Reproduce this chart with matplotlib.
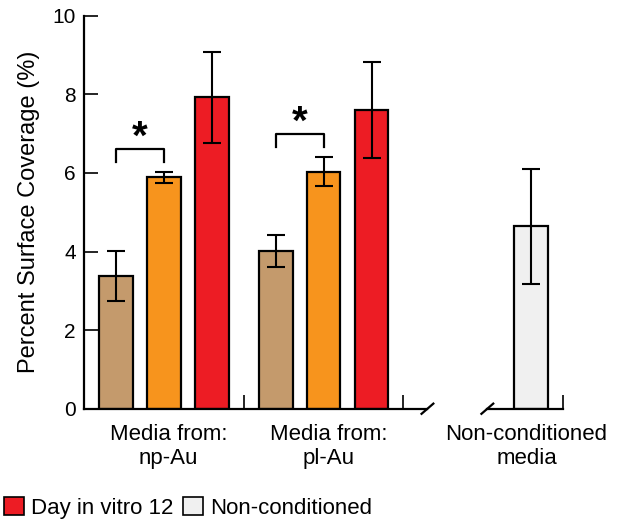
import matplotlib.pyplot as plt
from matplotlib.patches import Patch

plt.rcParams['font.family'] = ['Liberation Sans', 'DejaVu Sans']

# data
groups = ['Media from:\nnp-Au', 'Media from:\npl-Au']
days = ['Day in vitro 4', 'Day in vitro 8', 'Day in vitro 12']
colors = ['#C49A6C', '#F7941D', '#ED1C24']
np_au = [3.38, 5.89, 7.92]
np_au_err = [0.63, 0.14, 1.16]
pl_au = [4.02, 6.03, 7.60]
pl_au_err = [0.41, 0.37, 1.22]
noncond = 4.64
noncond_err = 1.47
noncond_label = 'Non-conditioned\nmedia'
sig_pairs = [(0, 1), (0, 1)]  # tan vs orange in each group

fig = plt.figure(figsize=(6.23, 5.24), dpi=100)
ax = fig.add_axes([0.135, 0.22, 0.769, 0.75])

offsets = [0.2, 0.5, 0.8]
width = 0.21
ekw = dict(elinewidth=1.5, capthick=1.5, ecolor='black')
for g, (vals, errs) in enumerate([(np_au, np_au_err), (pl_au, pl_au_err)]):
    for i in range(3):
        ax.bar(g + offsets[i], vals[i], width, yerr=errs[i], color=colors[i],
               edgecolor='black', linewidth=1.6, capsize=6.5, error_kw=ekw, zorder=2)
ax.bar(2.8, noncond, width, yerr=noncond_err, color='#F0F0F0',
       edgecolor='black', linewidth=1.6, capsize=6.5, error_kw=ekw, zorder=2)

# significance brackets
for g, (vals, errs) in enumerate([(np_au, np_au_err), (pl_au, pl_au_err)]):
    a, b = sig_pairs[g]
    top = max(vals[a] + errs[a], vals[b] + errs[b]) + 0.58
    x1, x2 = g + offsets[a], g + offsets[b]
    ax.plot([x1, x1, x2, x2], [top - 0.33, top, top, top - 0.33],
            color='black', lw=1.6, clip_on=False)
    ax.text((x1 + x2) / 2, top - 0.2, '*', ha='center', va='bottom',
            fontsize=29, fontweight='bold')

ax.set_xlim(0, 3)
ax.set_ylim(0, 10)
ax.set_yticks([0, 2, 4, 6, 8, 10])
ax.tick_params(axis='y', direction='in', length=10, width=1.2, labelsize=15, pad=6)
ax.set_xticks([1, 2, 3])
ax.set_xticklabels([])
ax.tick_params(axis='x', direction='in', length=10, width=1.2)
ax.set_ylabel('Percent Surface Coverage (%)', fontsize=17, labelpad=9)

for s in ['top', 'right', 'bottom']:
    ax.spines[s].set_visible(False)
ax.spines['left'].set_linewidth(1.6)

# broken bottom axis
brk = (2.15, 2.525)
ax.plot([0, brk[0]], [0, 0], color='black', lw=1.6, clip_on=False, zorder=3)
ax.plot([brk[1], 3], [0, 0], color='black', lw=1.6, clip_on=False, zorder=3)
for xb in brk:
    ax.plot([xb - 0.037, xb + 0.037], [-0.13, 0.13], color='black', lw=1.6,
            clip_on=False, zorder=3)

# category labels
for g, lab in enumerate(groups):
    ax.text(g + 0.53, -0.4, lab, ha='center', va='top', fontsize=16,
            linespacing=1.15)
ax.text(2.77, -0.4, noncond_label, ha='center', va='top', fontsize=16,
        linespacing=1.15)

handles = [Patch(facecolor=colors[2], edgecolor='black', linewidth=1.2),
           Patch(facecolor='#F0F0F0', edgecolor='black', linewidth=1.2)]
fig.legend(handles, [days[2], 'Non-conditioned'], loc='lower left',
           bbox_to_anchor=(-0.025, -0.028), ncol=2, frameon=False, fontsize=16,
           handlelength=0.9, handleheight=0.9, handletextpad=0.3,
           columnspacing=0.45)

fig.savefig('out.png', dpi=100)
